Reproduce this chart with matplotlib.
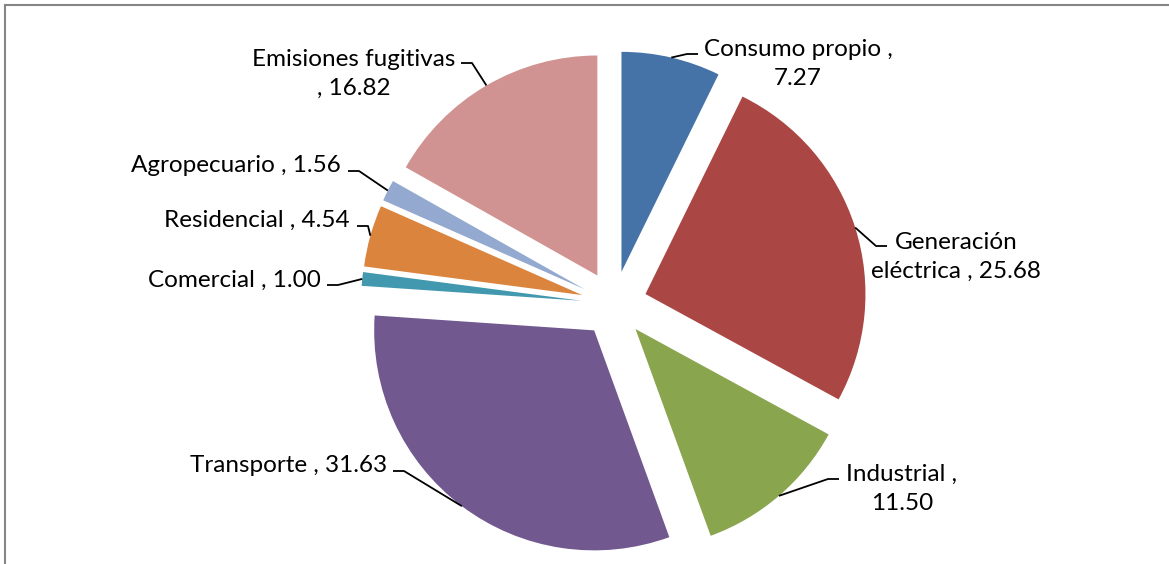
import numpy as np
import matplotlib
matplotlib.use('Agg')
import matplotlib.pyplot as plt
from matplotlib.lines import Line2D

W, H = 1169, 564

sectors = ['Consumo propio', 'Generación\neléctrica', 'Industrial', 'Transporte',
           'Comercial', 'Residencial', 'Agropecuario', 'Emisiones fugitivas']
values = [7.27, 25.68, 11.50, 31.63, 1.00, 4.54, 1.56, 16.82]
colors = ['#4572A7', '#AA4643', '#89A54E', '#71588F',
          '#4198AF', '#DB843D', '#93A9CF', '#D19392']

label_texts = ['Consumo propio ,\n7.27', 'Generación\neléctrica , 25.68',
               'Industrial ,\n11.50', 'Transporte , 31.63', 'Comercial , 1.00',
               'Residencial , 4.54', 'Agropecuario , 1.56',
               'Emisiones fugitivas\n, 16.82']

# label layout in image pixels (x, y from top)
text_pos = [(798, 64), (956, 257), (902, 489), (387, 466), (321, 280),
            (350, 220), (341, 166), (354, 74)]
text_ha = ['center', 'center', 'center', 'right', 'right', 'right', 'right', 'center']
anchor = [(698, 54), (887, 246), (839, 479), (393, 471), (327, 285),
          (357, 226), (348, 171), (461, 63)]
elbow_dir = [-1, -1, -1, 1, 1, 1, 1, 1]

plt.rcParams['font.family'] = ['Lato', 'DejaVu Sans']

fig = plt.figure(figsize=(W / 100, H / 100), dpi=100)
ax = fig.add_axes([0, 0, 1, 1])

radius = 220
wedges, _ = ax.pie(values, colors=colors, startangle=90, counterclock=False,
                   explode=[0.15 * radius] * len(values), radius=radius,
                   center=(614, H - 304), wedgeprops=dict(linewidth=0))
ax.set_xlim(0, W)
ax.set_ylim(0, H)
ax.set_aspect('equal')
ax.axis('off')

for w, txt, (tx, ty), ha, (axx, ayy), d in zip(wedges, label_texts, text_pos,
                                                text_ha, anchor, elbow_dir):
    mid = np.deg2rad((w.theta1 + w.theta2) / 2)
    cx, cy = w.center
    px = cx + w.r * np.cos(mid)
    py = cy + w.r * np.sin(mid)
    ex = axx + d * 11
    ax.plot([px, ex, axx], [py, H - ayy, H - ayy], color='black', lw=1.3,
            solid_capstyle='butt')
    ax.text(tx, H - ty, txt, ha=ha, va='center', multialignment='center',
            fontsize=17.5, linespacing=1.47, color='black')

# chart frame (top and left edges visible)
fig.add_artist(Line2D([5 / W, 1], [1 - 5 / H, 1 - 5 / H], color='#868686', lw=1.5))
fig.add_artist(Line2D([5 / W, 5 / W], [0, 1 - 5 / H], color='#868686', lw=1.5))

fig.savefig('out.png', dpi=100)
